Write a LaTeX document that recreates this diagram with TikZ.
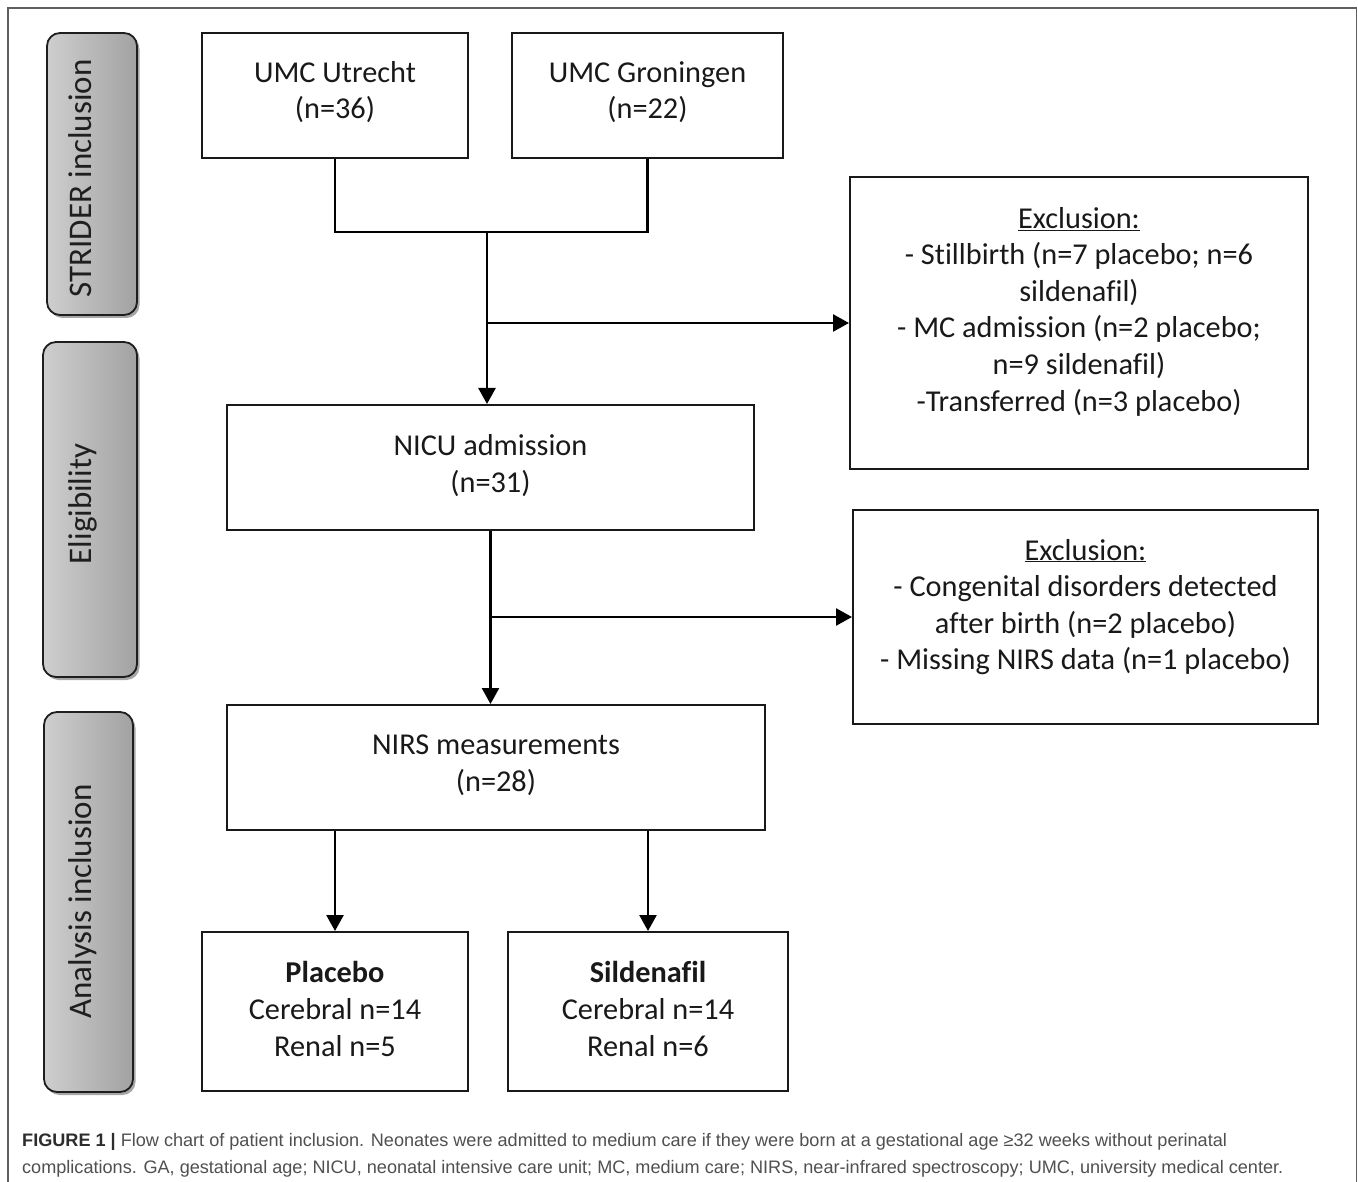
\documentclass[tikz,border=0pt]{standalone}
\usepackage{fontspec}
\setmainfont{Carlito}[Ligatures=NoCommon]
\newfontfamily\capfont{Liberation Sans}
\usetikzlibrary{arrows.meta,shadows}
\definecolor{sidel}{RGB}{206,206,206}
\definecolor{sider}{RGB}{162,162,162}
\definecolor{sidedraw}{RGB}{30,30,30}
\definecolor{framecol}{RGB}{95,95,95}
\definecolor{capbold}{RGB}{45,45,45}
\definecolor{captext}{RGB}{80,80,80}
\begin{document}
\begin{tikzpicture}[x=1pt,y=-1pt,
  box/.style={draw=black!90, line width=2pt, rectangle, inner sep=0pt, fill=white},
  boxtext/.style={align=center, inner sep=0pt, font=\fontsize{30.3}{36.6}\selectfont, text=black!90},
  sidebox/.style={draw=sidedraw, line width=1.8pt, rounded corners=13pt, left color=sidel, right color=sider, inner sep=0pt,
    drop shadow={shadow xshift=2.5pt, shadow yshift=-3pt, opacity=0.35, fill=black}},
  sidetext/.style={rotate=90, anchor=base, inner sep=0pt, font=\fontsize{33}{40}\selectfont, text=black!88},
  conn/.style={line width=2.6pt, black},
  arr/.style={conn, -{Triangle[width=17pt,length=16pt]}},
  captxt/.style={anchor=base west, inner sep=0pt, font=\capfont\fontsize{18.1}{22}\selectfont, text=captext}
]
\useasboundingbox (0,0) rectangle (1358,1182);
\fill[white] (0,0) rectangle (1358,1182);
\draw[framecol, line width=1.2pt] (8,1182) -- (8,8) -- (1356.5,8) -- (1356.5,1182);

% side labels
\node[sidebox, minimum width=90pt, minimum height=282pt] (s1) at (92,174) {};
\node[sidebox, minimum width=94pt, minimum height=335pt] (s2) at (90,509.5) {};
\node[sidebox, minimum width=89pt, minimum height=380pt] (s3) at (88.5,902) {};
\node[sidetext] (s1t) at (91.5,178.5) {STRIDER inclusion};
\node[sidetext] (s2t) at (91,504) {Eligibility};
\node[sidetext] (s3t) at (91.5,901.5) {Analysis inclusion};

% boxes
\node[box, minimum width=266pt, minimum height=125pt] (utr) at (335,95.5) {};
\node[box, minimum width=271pt, minimum height=125pt] (gro) at (647.5,95.5) {};
\node[box, minimum width=527pt, minimum height=125pt] (nicu) at (490.5,467.5) {};
\node[box, minimum width=538pt, minimum height=125pt] (nirs) at (496,767.5) {};
\node[box, minimum width=458pt, minimum height=292pt] (ex1) at (1079,323) {};
\node[box, minimum width=465pt, minimum height=214pt] (ex2) at (1085.5,617) {};
\node[box, minimum width=266pt, minimum height=159pt] (pl) at (335,1011.5) {};
\node[box, minimum width=280pt, minimum height=159pt] (si) at (648,1011.5) {};

% texts
\node[boxtext] (utrt) at (335,92) {UMC Utrecht\\(n=36)};
\node[boxtext] (grot) at (647.5,92) {UMC Groningen\\(n=22)};
\node[boxtext] (nicut) at (490.5,465.5) {NICU admission\\(n=31)};
\node[boxtext] (nirst) at (496,765) {NIRS measurements\\(n=28)};
\node[boxtext] (ex1t) at (1079,311.5) {\underline{Exclusion:}\\- Stillbirth (n=7 placebo; n=6\\sildenafil)\\- MC admission (n=2 placebo;\\n=9 sildenafil)\\-Transferred (n=3 placebo)};
\node[boxtext] (ex2t) at (1085.5,607) {\underline{Exclusion:}\\- Congenital disorders detected\\after birth (n=2 placebo)\\- Missing NIRS data (n=1 placebo)};
\node[boxtext] (plt) at (335,1009) {\textbf{Placebo}\\Cerebral n=14\\Renal n=5};
\node[boxtext] (sit) at (648,1009) {\textbf{Sildenafil}\\Cerebral n=14\\Renal n=6};

% connectors
\coordinate (j1) at (487,232);
\draw[conn] (utr.south) -- (utr.south |- j1) -- (gro.south |- j1) -- (gro.south);
\draw[arr] (j1) -- (j1 |- nicu.north);
\draw[arr] (j1 |- ex1.west) -- (ex1.west);
\draw[arr] (nicu.south) -- (nicu.south |- nirs.north);
\draw[arr] (nicu.south |- ex2.west) -- (ex2.west);
\draw[arr] (nirs.south -| pl.north) -- (pl.north);
\draw[arr] (nirs.south -| si.north) -- (si.north);

% caption
\node[captxt] (cap1) at (22,1146) {{\bfseries\color{capbold}FIGURE 1 |} Flow chart of patient inclusion. Neonates were admitted to medium care if they were born at a gestational age ≥32 weeks without perinatal};
\node[captxt] (cap2) at (22,1173) {complications. GA, gestational age; NICU, neonatal intensive care unit; MC, medium care; NIRS, near-infrared spectroscopy; UMC, university medical center.};
\end{tikzpicture}
\end{document}
